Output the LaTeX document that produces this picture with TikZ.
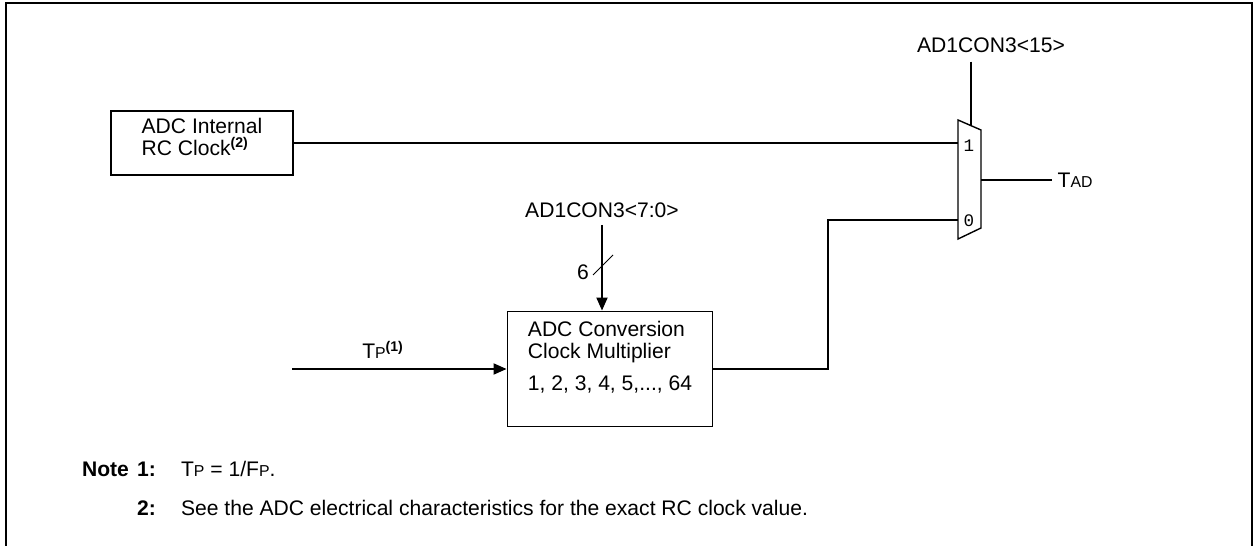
\documentclass[tikz,border=0pt]{standalone}
\usepackage{fontspec}
\setmainfont{Liberation Sans}
\newfontfamily\muxfont{Liberation Mono}
\usetikzlibrary{arrows.meta, positioning, calc}
\newcommand{\txtsize}{\fontsize{12}{12.5}\selectfont}
\newcommand{\smc}[1]{{\fontsize{9}{10}\selectfont #1}}
\tikzset{
  blk/.style  ={rectangle, draw=black, line width=1.1pt, align=left, inner sep=0pt, font=\txtsize},
  lbl/.style  ={inner sep=1pt, font=\txtsize},
  notehd/.style={inner sep=1pt, anchor=west, font=\txtsize\bfseries},
  notetx/.style={inner sep=1pt, anchor=west, font=\txtsize},
  muxin/.style={inner sep=0pt, font=\muxfont\fontsize{10}{11}\selectfont},
  wire/.style ={draw=black, line width=1.1pt},
  flow/.style ={-{Triangle[length=2.6mm, width=2.2mm]}, draw=black, line width=1.1pt},
}

\begin{document}
\begin{tikzpicture}[x=0.02cm, y=-0.02cm]
  \useasboundingbox (0,0) rectangle (1255,546);
  % frame, open at the bottom
  \draw[line width=1.2pt] (6,546) -- (6,3) -- (1252,3) -- (1252,546);

  \node[blk, minimum width=3.64cm, minimum height=1.28cm] (rcclk) at (202,143) {ADC Internal\\RC Clock\textsuperscript{\textbf{(2)}}\\[-0.2cm]};
  \node[blk, minimum width=4.1cm, minimum height=2.3cm] (mult) at (610,369) {ADC Conversion\\Clock Multiplier\\[0.2cm]1, 2, 3, 4, 5,..., 64\\[0.1cm]};

  % multiplexer
  \draw[line width=0.8pt] (958,120) -- (981,130) -- (981,228) -- (958,239) -- cycle;
  \coordinate (mux1)   at (958,143);
  \coordinate (mux0)   at (958,220);
  \coordinate (muxout) at (981,180);
  \coordinate (muxsel) at (971,125.7);
  \node[muxin] (in1) at (969,146) {1};
  \node[muxin] (in0) at (969,221) {0};

  \node[lbl, inner sep=5pt] (selmux) at (991,45) {AD1CON3<15>};
  \node[lbl, anchor=west, inner xsep=3pt] (tad) at (1052,180) {T\smc{AD}};
  \node[lbl, inner sep=4pt] (selmul) at (602,210) {AD1CON3<7:0>};
  \node[lbl]                (bus)    at (583,272) {6};
  \node[lbl]                (tp)     at (383,350) {T\smc{P}\textsuperscript{\textbf{(1)}}};
  \coordinate (tpin) at (292,369);
  \coordinate (bend) at (828,220);

  \draw[wire] (rcclk.east) -- (mux1);
  \draw[wire] (selmux.south -| muxsel) -- (muxsel);
  \draw[wire] (muxout) -- (tad.west);
  \draw[flow] (selmul.south) -- (selmul.south |- mult.north);
  \draw[line width=0.5pt] (593,275) -- (613,255);
  \draw[flow] (tpin) -- (mult.west);
  \draw[wire] (mult.east) -| (bend) -- (mux0);

  % notes
  \node[notehd] (note) at (80,469)  {Note};
  \node[notehd] (n1)   at (135,469) {1:};
  \node[notetx] (n1tx) at (179,469) {T\smc{P} = 1/F\smc{P}.};
  \node[notehd] (n2)   at (135,508) {2:};
  \node[notetx] (n2tx) at (179,508) {See the ADC electrical characteristics for the exact RC clock value.};
\end{tikzpicture}
\end{document}
